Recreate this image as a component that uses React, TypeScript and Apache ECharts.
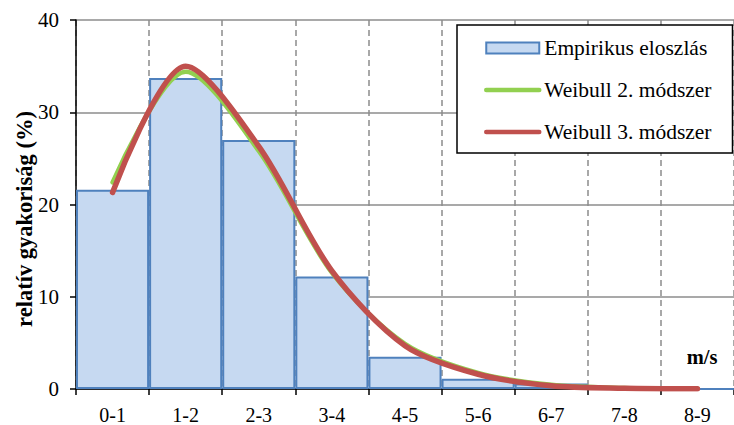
import React, { useEffect, useRef } from "react";
import * as echarts from "echarts";

const categories = ["0-1", "1-2", "2-3", "3-4", "4-5", "5-6", "6-7", "7-8", "8-9"];
const empirical = [21.6, 33.7, 27.0, 12.2, 3.5, 1.1, 0.6, 0.05, 0.02];
const weibull2 = [22.4, 34.4, 25.8, 12.6, 4.9, 1.75, 0.45, 0.1, 0.02];
const weibull3 = [21.3, 35.0, 26.3, 12.8, 4.7, 1.6, 0.35, 0.08, 0.02];
const seriesNames = ["Empirikus eloszlás", "Weibull 2. módszer", "Weibull 3. módszer"];
const yAxisTitle = "relatív gyakoriság (%)";
const xAxisUnit = "m/s";

const FONT = "'Liberation Serif', 'Times New Roman', serif";

export default function App() {
  const ref = useRef<HTMLDivElement>(null);
  useEffect(() => {
    if (!ref.current) return;
    const chart = echarts.init(ref.current, null, { renderer: "svg" });
    chart.setOption({
      animation: false,
      backgroundColor: "#ffffff",
      textStyle: { fontFamily: FONT },
      grid: { left: 76, top: 20, width: 661.5, height: 369, containLabel: false },
      legend: {
        orient: "vertical",
        left: 457,
        top: 25,
        padding: [12, 21, 10, 27],
        itemGap: 20,
        itemWidth: 53,
        itemHeight: 11,
        backgroundColor: "#ffffff",
        borderColor: "#000000",
        borderWidth: 1.5,
        borderRadius: 0,
        selectedMode: false,
        textStyle: { fontFamily: FONT, fontSize: 21.5, color: "#000000" },
        data: [
          { name: seriesNames[0], icon: "rect" },
          { name: seriesNames[1], itemStyle: { opacity: 0 }, lineStyle: { width: 4.5, cap: "round" } },
          { name: seriesNames[2], itemStyle: { opacity: 0 }, lineStyle: { width: 4.5, cap: "round" } },
        ],
      },
      xAxis: {
        type: "category",
        data: categories,
        boundaryGap: true,
        axisLine: { show: true, lineStyle: { color: "#000000", width: 1.5 } },
        axisTick: { show: true, inside: false, length: 6, lineStyle: { color: "#000000", width: 1.5 } },
        axisLabel: { fontFamily: FONT, fontSize: 20, color: "#000000", margin: 16 },
        splitLine: {
          show: true,
          lineStyle: { color: "#8c8c8c", width: 1.5, type: [6, 4] },
        },
      },
      yAxis: {
        type: "value",
        min: 0,
        max: 40,
        interval: 10,
        axisLine: { show: true, lineStyle: { color: "#000000", width: 1.5 } },
        axisTick: { show: true, inside: false, length: 6, lineStyle: { color: "#000000", width: 1.5 } },
        axisLabel: { fontFamily: FONT, fontSize: 21, color: "#000000", margin: 17 },
        splitLine: { show: true, lineStyle: { color: "#8c8c8c", width: 1.5 } },
      },
      graphic: [
        {
          type: "text",
          x: 24,
          y: 219,
          rotation: Math.PI / 2,
          style: {
            text: yAxisTitle,
            fontFamily: FONT,
            fontSize: 22.5,
            fontWeight: "bold",
            fill: "#000000",
            align: "center",
            verticalAlign: "middle",
          },
        },
        {
          type: "text",
          x: 702,
          y: 357,
          style: {
            text: xAxisUnit,
            fontFamily: FONT,
            fontSize: 20.5,
            fontWeight: "bold",
            fill: "#000000",
            align: "center",
            verticalAlign: "middle",
          },
        },
      ],
      series: [
        {
          name: seriesNames[0],
          type: "bar",
          data: empirical,
          barCategoryGap: "0%",
          barGap: "0%",
          itemStyle: { color: "#c6d9f1", borderColor: "#4f81bd", borderWidth: 2 },
          z: 2,
        },
        {
          name: seriesNames[1],
          type: "line",
          data: weibull2,
          smooth: 0.3,
          symbol: "none",
          lineStyle: { color: "#92d050", width: 4.5, cap: "round" },
          itemStyle: { color: "#92d050" },
          z: 3,
        },
        {
          name: seriesNames[2],
          type: "line",
          data: weibull3,
          smooth: 0.3,
          symbol: "none",
          lineStyle: { color: "#c0504d", width: 5.5, cap: "round" },
          itemStyle: { color: "#c0504d" },
          z: 4,
        },
      ],
    });
    return () => chart.dispose();
  }, []);
  return (
    <div
      ref={ref}
      style={{ position: "absolute", left: 0, top: 0, width: 734, height: 425 }}
    />
  );
}
